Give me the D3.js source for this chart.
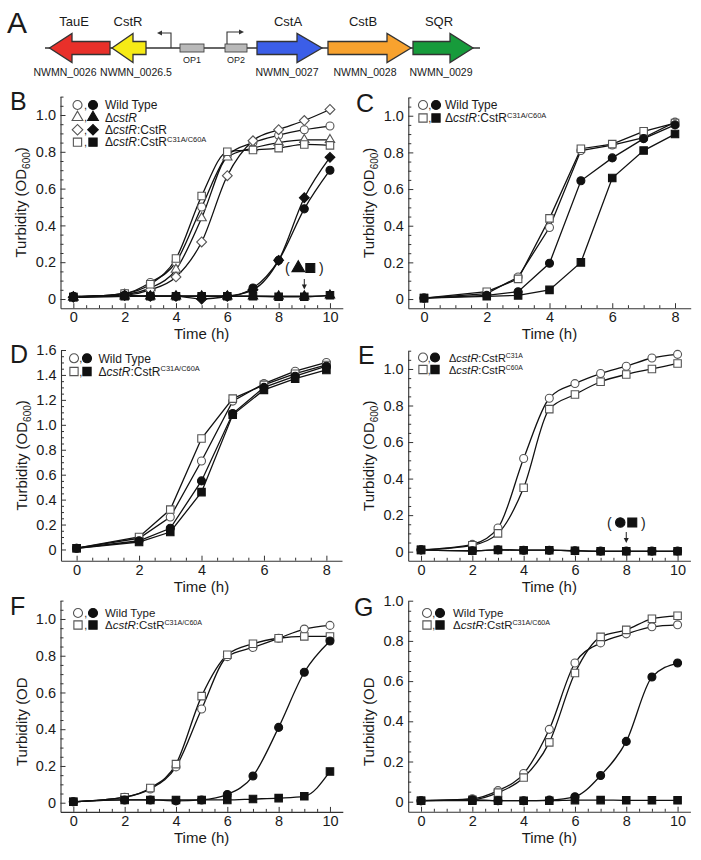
<!DOCTYPE html>
<html><head><meta charset="utf-8">
<script src="https://cdn.jsdelivr.net/npm/d3@7"></script>
<style>
body{margin:0;background:#fff}
svg{display:block}
text{font-family:"Liberation Sans",Arial,Helvetica,sans-serif;fill:#1a1a1a}
</style>
</head><body>
<svg id="fig" width="701" height="860"></svg>
<script>
// ---------------- DATA ----------------
// Panel A gene map
const geneNames = ["TauE", "CstR", "CstA", "CstB", "SQR"];
const geneTags = ["NWMN_0026", "NWMN_0026.5", "NWMN_0027", "NWMN_0028", "NWMN_0029"];
const operatorNames = ["OP1", "OP2"];

// Panel B
const hoursB = [0, 2, 3, 4, 5, 6, 7, 8, 9, 10];
const bWildTypeOpen   = [0.01, 0.03, 0.09, 0.20, 0.50, 0.78, 0.85, 0.89, 0.92, 0.94];
const bDeltaOpen      = [0.01, 0.025, 0.06, 0.16, 0.44, 0.77, 0.82, 0.85, 0.865, 0.865];
const bComplOpen      = [0.01, 0.02, 0.05, 0.12, 0.31, 0.67, 0.86, 0.92, 0.97, 1.03];
const bMutantOpen     = [0.01, 0.03, 0.08, 0.22, 0.56, 0.80, 0.81, 0.82, 0.84, 0.835];
const bWildTypeFilled = [0.015, 0.02, 0.015, 0.015, 0.015, 0.015, 0.06, 0.21, 0.49, 0.70];
const bDeltaFilled    = [0.01, 0.015, 0.015, 0.015, 0.015, 0.015, 0.015, 0.015, 0.015, 0.02];
const bComplFilled    = [0.01, 0.02, 0.015, 0.015, 0.0, 0.015, 0.05, 0.21, 0.55, 0.77];
const bMutantFilled   = [0.01, 0.015, 0.015, 0.015, 0.015, 0.015, 0.015, 0.012, 0.012, 0.02];

// Panel C
const hoursC = [0, 2, 3, 4, 5, 6, 7, 8];
const cWildTypeOpen   = [0.005, 0.03, 0.12, 0.39, 0.81, 0.84, 0.88, 0.965];
const cMutantOpen     = [0.005, 0.04, 0.11, 0.44, 0.82, 0.845, 0.915, 0.96];
const cWildTypeFilled = [0.005, 0.02, 0.04, 0.195, 0.645, 0.77, 0.875, 0.95];
const cMutantFilled   = [0.005, 0.015, 0.02, 0.05, 0.20, 0.66, 0.81, 0.90];

// Panel D
const hoursD = [0, 2, 3, 4, 5, 6, 7, 8];
const dWildTypeOpen   = [0.01, 0.09, 0.26, 0.71, 1.19, 1.33, 1.43, 1.50];
const dMutantOpen     = [0.01, 0.10, 0.32, 0.89, 1.21, 1.32, 1.41, 1.48];
const dWildTypeFilled = [0.01, 0.07, 0.17, 0.55, 1.09, 1.30, 1.39, 1.47];
const dMutantFilled   = [0.01, 0.06, 0.14, 0.46, 1.08, 1.28, 1.37, 1.44];

// Panel E
const hoursE = [0, 2, 3, 4, 5, 6, 7, 8, 9, 10];
const eC31AOpen   = [0.01, 0.04, 0.13, 0.51, 0.84, 0.92, 0.975, 1.015, 1.06, 1.08];
const eC60AOpen   = [0.01, 0.035, 0.10, 0.35, 0.78, 0.86, 0.93, 0.97, 1.0, 1.03];
const eC31AFilled = [0.01, 0.005, 0.01, 0.008, 0.008, 0.005, 0.003, 0.003, 0.003, 0.003];
const eC60AFilled = [0.01, 0.005, 0.01, 0.008, 0.008, 0.005, 0.002, 0.002, 0.002, 0.002];

// Panel F
const hoursF = [0, 2, 3, 4, 5, 6, 7, 8, 9, 10];
const fWildTypeOpen   = [0.005, 0.03, 0.075, 0.195, 0.51, 0.795, 0.845, 0.895, 0.945, 0.965];
const fMutantOpen     = [0.005, 0.03, 0.08, 0.21, 0.58, 0.805, 0.865, 0.895, 0.905, 0.905];
const fWildTypeFilled = [0.005, 0.015, 0.015, 0.01, 0.015, 0.045, 0.145, 0.41, 0.71, 0.88];
const fMutantFilled   = [0.005, 0.015, 0.015, 0.015, 0.015, 0.015, 0.02, 0.025, 0.035, 0.17];

// Panel G
const hoursG = [0, 2, 3, 4, 5, 6, 7, 8, 9, 10];
const gWildTypeOpen   = [0.005, 0.015, 0.055, 0.14, 0.36, 0.69, 0.79, 0.835, 0.87, 0.88];
const gMutantOpen     = [0.005, 0.01, 0.045, 0.12, 0.295, 0.64, 0.82, 0.855, 0.91, 0.925];
const gWildTypeFilled = [0.005, 0.01, 0.005, 0.005, 0.008, 0.025, 0.13, 0.30, 0.62, 0.69];
const gMutantFilled   = [0.005, 0.005, 0.005, 0.005, 0.005, 0.008, 0.008, 0.007, 0.007, 0.007];

// Tick labels
const xTicks10 = [0, 2, 4, 6, 8, 10];
const xTicks8 = [0, 2, 4, 6, 8];
const yTicks10 = [0, 0.2, 0.4, 0.6, 0.8, 1.0];
const yTicks16 = [0, 0.2, 0.4, 0.6, 0.8, 1.0, 1.2, 1.4, 1.6];

// Legend labels
const legWT = [{t: "Wild Type"}];
const legDelta = [{t: "Δ"}, {t: "cstR", i: true}];
const legCompl = [{t: "Δ"}, {t: "cstR", i: true}, {t: ":CstR"}];
const legMutant = [{t: "Δ"}, {t: "cstR", i: true}, {t: ":CstR"}, {t: "C31A/C60A", sup: true}];
const legC31A = [{t: "Δ"}, {t: "cstR", i: true}, {t: ":CstR"}, {t: "C31A", sup: true}];
const legC60A = [{t: "Δ"}, {t: "cstR", i: true}, {t: ":CstR"}, {t: "C60A", sup: true}];

// ---------------- DRAWING ----------------
const svg = d3.select("#fig");
const AX = "#333";

// ---- Panel A ----
(function () {
  const g = svg.append("g");
  g.append("text").attr("x", 7).attr("y", 33).attr("font-size", 30).text("A");
  const yc = 48;
  g.append("line").attr("x1", 45).attr("x2", 480).attr("y1", yc).attr("y2", yc)
    .attr("stroke", "#333").attr("stroke-width", 1.6);
  const geom = [
    {tail: 110, base: 72, tip: 49.5, color: "#e8302a"},
    {tail: 146, base: 133, tip: 112, color: "#f6ea16"},
    {tail: 257, base: 297, tip: 322, color: "#3b5ee8"},
    {tail: 328, base: 387, tip: 411, color: "#f8a22e"},
    {tail: 413, base: 450, tip: 473, color: "#179b3b"}
  ];
  const nameX = [74, 128, 288, 363, 439];
  const tagX = [65, 136, 287, 365, 441];
  const bh = 13, hh = 29;
  geom.forEach((a, i) => {
    const p = d3.path();
    p.moveTo(a.tail, yc - bh / 2);
    p.lineTo(a.base, yc - bh / 2);
    p.lineTo(a.base, yc - hh / 2);
    p.lineTo(a.tip, yc);
    p.lineTo(a.base, yc + hh / 2);
    p.lineTo(a.base, yc + bh / 2);
    p.lineTo(a.tail, yc + bh / 2);
    p.closePath();
    g.append("path").attr("d", p.toString()).attr("fill", a.color)
      .attr("stroke", "#333").attr("stroke-width", 1.3).attr("stroke-linejoin", "miter");
    g.append("text").attr("x", nameX[i]).attr("y", 26).attr("text-anchor", "middle")
      .attr("font-size", 13).text(geneNames[i]);
    g.append("text").attr("x", tagX[i]).attr("y", 76).attr("text-anchor", "middle")
      .attr("font-size", 10.5).text(geneTags[i]);
  });
  const ops = [{x0: 180, x1: 204}, {x0: 225, x1: 247}];
  ops.forEach((o, i) => {
    g.append("rect").attr("x", o.x0).attr("y", 44).attr("width", o.x1 - o.x0).attr("height", 8)
      .attr("fill", "#b9b9b9").attr("stroke", "#444").attr("stroke-width", 0.9);
    g.append("text").attr("x", (o.x0 + o.x1) / 2).attr("y", 63).attr("text-anchor", "middle")
      .attr("font-size", 9).text(operatorNames[i]);
  });
  // promoters
  g.append("path").attr("d", "M171,48 V33 H161").attr("fill", "none").attr("stroke", "#333").attr("stroke-width", 1.1);
  g.append("path").attr("d", "M157,33 L162,30.5 L162,35.5 Z").attr("fill", "#333");
  g.append("path").attr("d", "M227,44 V32 H240").attr("fill", "none").attr("stroke", "#333").attr("stroke-width", 1.1);
  g.append("path").attr("d", "M244,32 L239,29.5 L239,34.5 Z").attr("fill", "#333");
})();

// ---- symbol helpers ----
const shapeOf = {circle: d3.symbolCircle, square: d3.symbolSquare, triangle: d3.symbolTriangle, diamond: d3.symbolSquare};
const plotArea = {circle: 50, square: 56, triangle: 38, diamond: 48};
const legArea = {circle: 64, square: 68, triangle: 50, diamond: 56};
function drawSym(g, shape, filled, cx, cy, area) {
  g.append("path")
    .attr("d", d3.symbol(shapeOf[shape], area)())
    .attr("transform", `translate(${cx},${cy})` + (shape === "diamond" ? " rotate(45)" : ""))
    .attr("fill", filled ? "#111" : "#fff")
    .attr("stroke", filled ? "#111" : "#555")
    .attr("stroke-width", 1.1);
}
function richText(g, x, y, parts, fs) {
  const t = g.append("text").attr("x", x).attr("y", y).attr("font-size", fs);
  parts.forEach(p => {
    const s = t.append("tspan").text(p.t);
    if (p.i) s.attr("font-style", "italic");
    if (p.sup) { s.attr("font-size", fs * 0.62).attr("dy", -fs * 0.38); }
  });
  return t;
}

// ---- panel config ----
const panels = [
  {letter: "B", lx: 10, ly: 110, xr: [60.5, 342.8], yr: [308.2, 96.6], xd: [-0.5, 10.5], yd: [-0.05, 1.1],
   xt: xTicks10, yt: yTicks10, curve: d3.curveMonotoneX, ylab: {x: 21, full: true},
   series: [
     {x: hoursB, y: bWildTypeOpen, s: "circle", f: false},
     {x: hoursB, y: bDeltaOpen, s: "triangle", f: false},
     {x: hoursB, y: bComplOpen, s: "diamond", f: false},
     {x: hoursB, y: bMutantOpen, s: "square", f: false},
     {x: hoursB, y: bWildTypeFilled, s: "circle", f: true},
     {x: hoursB, y: bComplFilled, s: "diamond", f: true},
     {x: hoursB, y: bDeltaFilled, s: "triangle", f: true},
     {x: hoursB, y: bMutantFilled, s: "square", f: true}
   ],
   legend: {ox: 77.5, fx: 93, tx: 105, rows: [105, 117.4, 129.8, 142.2], fs: 12,
     items: [["circle", legWT], ["triangle", legDelta], ["diamond", legCompl], ["square", legMutant]]},
   note: {hx: 9, ty: 268, a0: 279, a1: 289.5, shapes: ["triangle", "square"]}},
  {letter: "C", lx: 356, ly: 112, xr: [408.3, 690.7], yr: [308.2, 97.4], xd: [-0.5, 8.5], yd: [-0.05, 1.1],
   xt: xTicks8, yt: yTicks10, curve: d3.curveLinear, ylab: {x: 369, full: true},
   series: [
     {x: hoursC, y: cWildTypeOpen, s: "circle", f: false},
     {x: hoursC, y: cMutantOpen, s: "square", f: false},
     {x: hoursC, y: cWildTypeFilled, s: "circle", f: true},
     {x: hoursC, y: cMutantFilled, s: "square", f: true}
   ],
   legend: {ox: 423, fx: 436, tx: 445, rows: [105, 118], fs: 12,
     items: [["circle", legWT], ["square", legMutant]]}},
  {letter: "D", lx: 10, ly: 363, xr: [61, 342], yr: [560.7, 350], xd: [-0.5, 8.5], yd: [-0.09, 1.6],
   xt: xTicks8, yt: yTicks16, curve: d3.curveLinear, ylab: {x: 21.5, full: true},
   series: [
     {x: hoursD, y: dWildTypeOpen, s: "circle", f: false},
     {x: hoursD, y: dMutantOpen, s: "square", f: false},
     {x: hoursD, y: dWildTypeFilled, s: "circle", f: true},
     {x: hoursD, y: dMutantFilled, s: "square", f: true}
   ],
   legend: {ox: 74, fx: 87, tx: 98.5, rows: [358.3, 371.5], fs: 12,
     items: [["circle", legWT], ["square", legMutant]]}},
  {letter: "E", lx: 358, ly: 364, xr: [408.2, 690.4], yr: [560.8, 350.7], xd: [-0.5, 10.5], yd: [-0.05, 1.1],
   xt: xTicks10, yt: yTicks10, curve: d3.curveMonotoneX, ylab: {x: 369, full: true},
   series: [
     {x: hoursE, y: eC31AOpen, s: "circle", f: false},
     {x: hoursE, y: eC60AOpen, s: "square", f: false},
     {x: hoursE, y: eC31AFilled, s: "circle", f: true},
     {x: hoursE, y: eC60AFilled, s: "square", f: true}
   ],
   legend: {ox: 423, fx: 435, tx: 449, rows: [357.5, 369.5], fs: 11,
     items: [["circle", legC31A], ["square", legC60A]]},
   note: {hx: 8, ty: 522.5, a0: 532, a1: 543, shapes: ["circle", "square"]}},
  {letter: "F", lx: 10, ly: 615, xr: [60.5, 342.8], yr: [811.9, 600.6], xd: [-0.5, 10.5], yd: [-0.05, 1.1],
   xt: xTicks10, yt: yTicks10, curve: d3.curveMonotoneX, ylab: {x: 21.5, full: false, start: 766},
   series: [
     {x: hoursF, y: fWildTypeOpen, s: "circle", f: false},
     {x: hoursF, y: fMutantOpen, s: "square", f: false},
     {x: hoursF, y: fWildTypeFilled, s: "circle", f: true},
     {x: hoursF, y: fMutantFilled, s: "square", f: true}
   ],
   legend: {ox: 78, fx: 93, tx: 105, rows: [613, 625], fs: 11.5,
     items: [["circle", legWT], ["square", legMutant]]}},
  {letter: "G", lx: 354, ly: 616, xr: [408.2, 690.4], yr: [811.75, 600.7], xd: [-0.5, 10.5], yd: [-0.05, 1.0],
   xt: xTicks10, yt: yTicks10, curve: d3.curveMonotoneX, ylab: {x: 369, full: false, start: 766},
   series: [
     {x: hoursG, y: gWildTypeOpen, s: "circle", f: false},
     {x: hoursG, y: gMutantOpen, s: "square", f: false},
     {x: hoursG, y: gWildTypeFilled, s: "circle", f: true},
     {x: hoursG, y: gMutantFilled, s: "square", f: true}
   ],
   legend: {ox: 427, fx: 440, tx: 453, rows: [613, 625], fs: 11.5,
     items: [["circle", legWT], ["square", legMutant]]}}
];

const fmtY = d => d === 0 ? "0" : d3.format(".1f")(d);

panels.forEach(P => {
  const g = svg.append("g");
  const x = d3.scaleLinear().domain(P.xd).range(P.xr);
  const y = d3.scaleLinear().domain(P.yd).range(P.yr);
  const x0 = P.xr[0], yB = P.yr[0];

  // minor ticks
  const xMinor = d3.range(-0.5, P.xd[1] + 0.01, 0.5).filter(v => !P.xt.includes(v) && v > P.xd[0] + 0.01 && v < P.xd[1] - 0.01);
  const yMinor = d3.range(0, P.yd[1] + 0.001, 0.05).map(v => +v.toFixed(2)).filter(v => !P.yt.some(t => Math.abs(t - v) < 1e-6));

  g.append("g").attr("transform", `translate(0,${yB})`)
    .call(d3.axisBottom(x).tickValues(P.xt).tickSizeInner(-5).tickSizeOuter(0).tickPadding(4).tickFormat(d3.format("d")));
  g.append("g").attr("transform", `translate(0,${yB})`)
    .call(d3.axisBottom(x).tickValues(xMinor).tickSizeInner(-3).tickSizeOuter(0).tickFormat(""))
    .call(s => s.select(".domain").remove());
  g.append("g").attr("transform", `translate(${x0},0)`)
    .call(d3.axisLeft(y).tickValues(P.yt).tickSizeInner(-5).tickSizeOuter(0).tickPadding(4.5).tickFormat(fmtY));
  g.append("g").attr("transform", `translate(${x0},0)`)
    .call(d3.axisLeft(y).tickValues(yMinor).tickSizeInner(-3).tickSizeOuter(0).tickFormat(""))
    .call(s => s.select(".domain").remove());
  g.selectAll(".domain").attr("stroke", AX).attr("stroke-width", 1.1);
  g.selectAll(".tick line").attr("stroke", AX).attr("stroke-width", 1);
  g.selectAll(".tick text").attr("font-size", 14.5).attr("fill", "#1a1a1a")
    .attr("font-family", '"Liberation Sans",Arial,sans-serif');

  // x label
  g.append("text").attr("x", (P.xr[0] + P.xr[1]) / 2).attr("y", yB + 31)
    .attr("text-anchor", "middle").attr("font-size", 15).text("Time (h)");

  // y label
  const cy = (P.yr[0] + P.yr[1]) / 2;
  if (P.ylab.full) {
    const t = g.append("text").attr("transform", `translate(${P.ylab.x + 5},${cy}) rotate(-90)`)
      .attr("text-anchor", "middle").attr("font-size", 15);
    t.append("tspan").text("Turbidity (OD");
    t.append("tspan").text("600").attr("font-size", 10).attr("dy", 4);
    t.append("tspan").text(")").attr("dy", -4);
  } else {
    g.append("text").attr("transform", `translate(${P.ylab.x + 5},${P.ylab.start}) rotate(-90)`)
      .attr("text-anchor", "start").attr("font-size", 15).text("Turbidity (OD");
  }

  // panel letter
  g.append("text").attr("x", P.lx).attr("y", P.ly).attr("font-size", 25).text(P.letter);

  // lines
  const line = d3.line().x(d => x(d[0])).y(d => y(d[1])).curve(P.curve);
  P.series.forEach(S => {
    const pts = S.x.map((h, i) => [h, S.y[i]]);
    g.append("path").attr("d", line(pts)).attr("fill", "none")
      .attr("stroke", "#111").attr("stroke-width", 1.3);
  });
  // markers
  P.series.forEach(S => {
    S.x.forEach((h, i) => drawSym(g, S.s, S.f, x(h), y(S.y[i]), plotArea[S.s]));
  });

  // legend
  const L = P.legend;
  L.items.forEach((it, k) => {
    const ry = L.rows[k];
    drawSym(g, it[0], false, L.ox, ry, legArea[it[0]]);
    g.append("text").attr("x", (L.ox + L.fx) / 2 - 1.2).attr("y", ry + 4).attr("font-size", L.fs - 1).text(",");
    drawSym(g, it[0], true, L.fx, ry, legArea[it[0]]);
    richText(g, L.tx, ry + 4.2, it[1], L.fs);
  });

  // annotation
  if (P.note) {
    const N = P.note, cx = x(N.hx);
    g.append("text").attr("x", cx - 17).attr("y", N.ty + 5).attr("font-size", 14).attr("text-anchor", "middle").text("(");
    g.append("text").attr("x", cx + 17).attr("y", N.ty + 5).attr("font-size", 14).attr("text-anchor", "middle").text(")");
    drawSym(g, N.shapes[0], true, cx - 6, N.ty, 70);
    drawSym(g, N.shapes[1], true, cx + 6, N.ty, 80);
    g.append("line").attr("x1", cx).attr("x2", cx).attr("y1", N.a0).attr("y2", N.a1 - 3)
      .attr("stroke", "#222").attr("stroke-width", 1);
    g.append("path").attr("d", `M${cx},${N.a1} L${cx - 2.5},${N.a1 - 5} L${cx + 2.5},${N.a1 - 5} Z`).attr("fill", "#222");
  }
});
</script>
</body></html>
